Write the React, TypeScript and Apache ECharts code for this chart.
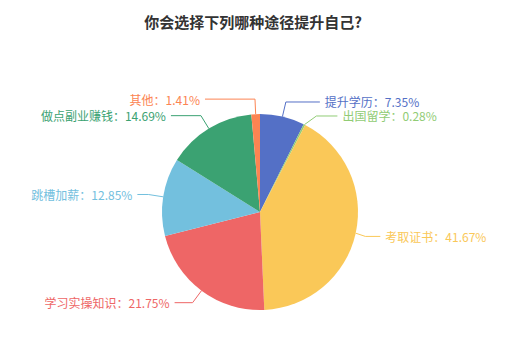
import React, { useEffect, useRef } from "react";
import * as echarts from "echarts";

const categories = ["提升学历", "出国留学", "考取证书", "学习实操知识", "跳槽加薪", "做点副业赚钱", "其他"];
const values = [7.35, 0.28, 41.67, 21.75, 12.85, 14.69, 1.41];
const colors = ["#5470c6", "#91cc75", "#fac858", "#ee6666", "#73c0de", "#3ba272", "#fc8452"];
const lineLength2 = [34, 21, 15, 18, 11, 30, 50];

export default function App() {
  const ref = useRef<HTMLDivElement>(null);
  useEffect(() => {
    document.body.style.margin = "0";
    const chart = echarts.init(ref.current!, null, { renderer: "svg" });
    chart.setOption({
      animation: false,
      color: colors,
      textStyle: { fontFamily: "Noto Sans CJK SC" },
      title: {
        text: "你会选择下列哪种途径提升自己?",
        left: "center",
        top: 9,
        textStyle: { fontSize: 15, fontWeight: "bold", color: "#333", fontFamily: "Noto Sans CJK SC" },
      },
      series: [
        {
          type: "pie",
          center: [260, 212],
          radius: 98,
          data: categories.map((name, i) => ({
            name,
            value: values[i],
            labelLine: { length2: lineLength2[i] },
          })),
          label: { formatter: "{b}：{c}%", fontSize: 12, lineHeight: 12, color: "inherit" },
          labelLine: { length: 15, length2: 15 },
        },
      ],
    });
    return () => chart.dispose();
  }, []);
  return <div ref={ref} style={{ width: 506, height: 340 }} />;
}
